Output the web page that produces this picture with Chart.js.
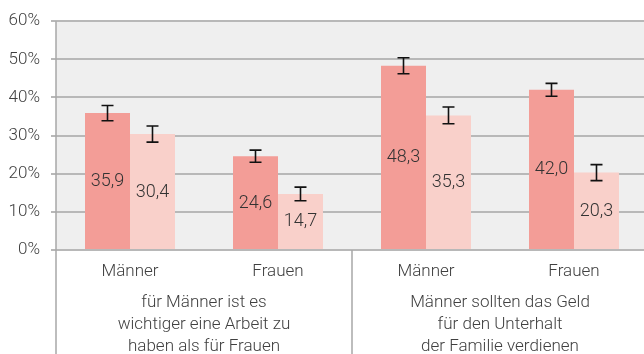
<!DOCTYPE html>
<html>
<head>
<meta charset="utf-8">
<script src="https://cdn.jsdelivr.net/npm/chart.js@4.4.1/dist/chart.umd.min.js"></script>
<style>
  html, body { margin: 0; padding: 0; background: #ffffff; }
  #frame { width: 644px; height: 354px; overflow: hidden; position: relative; }
  #wrap { position: absolute; left: 0; top: 0; width: 660px; height: 354px; }
</style>
</head>
<body>
<div id="frame"><div id="wrap"><canvas id="c" width="660" height="354"></canvas></div></div>
<script>
// Categories along the x axis and the two statements they belong to
const categories = ['Männer', 'Frauen', 'Männer', 'Frauen'];
const groupLabels = [
  ['für Männer ist es', 'wichtiger eine Arbeit zu', 'haben als für Frauen'],
  ['Männer sollten das Geld', 'für den Unterhalt', 'der Familie verdienen']
];

// Agreement in percent, two series per category
const seriesA = [35.9, 24.6, 48.3, 42.0];
const seriesB = [30.4, 14.7, 35.3, 20.3];

// Confidence intervals (half width, percentage points)
const errorA = [2.0, 1.6, 2.1, 1.7];
const errorB = [2.1, 1.8, 2.2, 2.1];

const yTicks = [0, 10, 20, 30, 40, 50, 60];

const TEXT = '#404040';
const GRID = '#b8b8b8';
const FONT = "'Roboto', 'Liberation Sans', sans-serif";

// Grey plotting area
const plotBackground = {
  id: 'plotBackground',
  beforeDraw(chart) {
    const { ctx, chartArea: a } = chart;
    ctx.save();
    ctx.fillStyle = '#efefef';
    ctx.fillRect(a.left, a.top, a.right - a.left, a.bottom - a.top);
    ctx.restore();
  }
};

// Error bars and value labels inside the bars
const barDecorations = {
  id: 'barDecorations',
  afterDatasetsDraw(chart) {
    const { ctx } = chart;
    const y = chart.scales.y;
    const errs = [errorA, errorB];
    ctx.save();
    chart.data.datasets.forEach((ds, di) => {
      const meta = chart.getDatasetMeta(di);
      meta.data.forEach((bar, i) => {
        const v = ds.data[i];
        // value label centred in the bar
        ctx.fillStyle = '#333333';
        ctx.font = '300 18px ' + FONT;
        ctx.textAlign = 'center';
        ctx.textBaseline = 'middle';
        ctx.fillText(v.toFixed(1).replace('.', ','), bar.x, (y.getPixelForValue(v) + y.getPixelForValue(0)) / 2);
        // error bar
        const e = errs[di][i];
        const top = y.getPixelForValue(v + e);
        const bot = y.getPixelForValue(v - e);
        const cw = 6;
        ctx.strokeStyle = '#111111';
        ctx.lineWidth = 1.6;
        ctx.beginPath();
        ctx.moveTo(bar.x, top); ctx.lineTo(bar.x, bot);
        ctx.moveTo(bar.x - cw, top); ctx.lineTo(bar.x + cw, top);
        ctx.moveTo(bar.x - cw, bot); ctx.lineTo(bar.x + cw, bot);
        ctx.stroke();
      });
    });
    ctx.restore();
  }
};

// Statement labels under the categories and the dividing lines
const groupAxis = {
  id: 'groupAxis',
  afterDraw(chart) {
    const { ctx, chartArea: a } = chart;
    const x = chart.scales.x;
    const H = chart.height;
    ctx.save();
    ctx.strokeStyle = '#a8a8a8';
    ctx.lineWidth = 1.5;
    const mid = (x.getPixelForValue(1) + x.getPixelForValue(2)) / 2;
    ctx.beginPath();
    ctx.moveTo(a.left, a.top); ctx.lineTo(a.left, H);
    ctx.moveTo(mid, a.bottom); ctx.lineTo(mid, H);
    ctx.stroke();

    ctx.fillStyle = TEXT;
    ctx.font = '300 17px ' + FONT;
    ctx.textAlign = 'center';
    ctx.textBaseline = 'middle';
    groupLabels.forEach((lines, g) => {
      const cx = (x.getPixelForValue(2 * g) + x.getPixelForValue(2 * g + 1)) / 2;
      lines.forEach((t, k) => ctx.fillText(t, cx, 303 + k * 22));
    });
    ctx.restore();
  }
};

new Chart(document.getElementById('c'), {
  type: 'bar',
  data: {
    labels: categories,
    datasets: [
      { label: 'A', data: seriesA, backgroundColor: '#f39d97' },
      { label: 'B', data: seriesB, backgroundColor: '#f9d0ca' }
    ]
  },
  options: {
    responsive: false,
    devicePixelRatio: 1,
    animation: false,
    layout: { padding: { top: 20, right: 12, bottom: 0, left: 0 } },
    datasets: { bar: { categoryPercentage: 0.608, barPercentage: 1.0 } },
    plugins: { legend: { display: false }, tooltip: { enabled: false }, title: { display: false } },
    scales: {
      x: {
        offset: true,
        grid: { display: false, drawTicks: false },
        border: { display: false },
        ticks: { color: TEXT, font: { family: FONT, size: 17, weight: 300 }, padding: 12, maxRotation: 0 },
        afterFit(s) { s.height = 104; }
      },
      y: {
        min: 0, max: 60,
        afterBuildTicks(s) { s.ticks = yTicks.map(v => ({ value: v })); },
        grid: { color: GRID, lineWidth: 2, tickLength: 5, drawTicks: true },
        border: { display: false },
        ticks: {
          color: TEXT, padding: 11,
          font: { family: FONT, size: 17, weight: 300 },
          callback: v => v + '%'
        },
        afterFit(s) { s.width = 56; }
      }
    }
  },
  plugins: [plotBackground, barDecorations, groupAxis]
});
</script>
</body>
</html>
